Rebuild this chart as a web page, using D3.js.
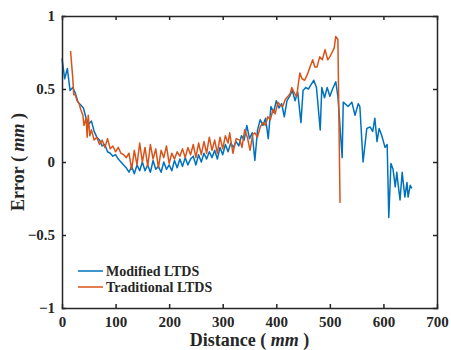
<!DOCTYPE html>
<meta charset="utf-8">
<style>
    body { margin: 0; background: #fff; }
    text { font-family: 'Liberation Serif', 'Times New Roman', serif; font-weight: bold; fill: #262626; }
    .axis text { font-family: 'Liberation Serif', 'Times New Roman', serif; font-weight: bold; font-size: 15px; fill: #262626; }
    .axis path, .axis line { stroke: #262626; stroke-width: 1.5px; }
    .line { fill: none; stroke-width: 1.5px; stroke-linejoin: round; }
</style>
<svg width="451" height="350"></svg>
<script src="https://d3js.org/d3.v7.min.js"></script>
<script>

    // Modified LTDS
    var modDist = [0, 5, 10, 15, 20, 25, 30, 35, 40, 45, 50, 55, 60, 65, 70, 75, 80, 85, 90, 95,
        100, 105, 110, 115, 120, 125, 130, 135, 140, 145, 150, 155, 160, 165, 170, 175, 180, 185, 190, 195,
        200, 205, 210, 215, 220, 225, 230, 235, 240, 245, 250, 255, 260, 265, 270, 275, 280, 285, 290, 295,
        300, 305, 310, 315, 320, 325, 330, 335, 340, 345, 350, 355, 360, 365, 370, 375, 380, 385, 390, 395,
        400, 405, 410, 415, 420, 425, 430, 435, 440, 446, 450, 455, 460, 465, 470, 475, 482, 485, 490, 495,
        500, 505, 511, 515, 523, 525, 534, 541, 547, 553, 556, 562, 569, 575, 580, 584, 588, 592, 597, 603,
        607, 610, 614, 618, 622, 625, 627, 631, 635, 637, 640, 644, 646, 650, 653];
    var modErr = [0.71, 0.57, 0.64, 0.49, 0.51, 0.47, 0.41, 0.39, 0.37, 0.30, 0.26, 0.28, 0.21, 0.17, 0.15, 0.11, 0.12, 0.07, 0.06, 0.04,
        0.05, 0.02, 0.00, -0.02, -0.04, -0.07, -0.03, -0.08, -0.02, -0.06, 0.00, -0.06, -0.02, -0.07, 0.01, -0.05, -0.03, -0.07, 0.00, -0.05,
        -0.02, -0.06, 0.01, -0.04, 0.02, -0.03, 0.03, -0.02, 0.02, 0.04, -0.02, 0.05, 0.00, 0.06, 0.02, 0.07, 0.03, 0.08, 0.02, 0.10,
        0.05, 0.12, 0.07, 0.13, 0.10, 0.14, 0.11, 0.18, 0.15, 0.25, 0.16, 0.20, 0.01, 0.22, 0.29, 0.25, 0.30, 0.16, 0.38, 0.34,
        0.42, 0.37, 0.40, 0.31, 0.42, 0.45, 0.49, 0.42, 0.48, 0.27, 0.49, 0.51, 0.50, 0.53, 0.56, 0.51, 0.22, 0.51, 0.44, 0.51,
        0.45, 0.50, 0.55, 0.45, 0.03, 0.41, 0.38, 0.41, 0.32, 0.40, 0.38, 0.00, 0.23, 0.24, 0.21, 0.30, 0.14, 0.23, 0.18, 0.10,
        0.12, -0.38, -0.01, -0.05, -0.17, -0.07, -0.14, -0.26, -0.07, -0.14, -0.24, -0.14, -0.24, -0.16, -0.18];

    // Traditional LTDS
    var tradDist = [16, 20, 22, 25, 28, 32, 35, 39, 41, 45, 47, 49, 52, 55, 60, 65, 70, 75, 80, 85,
        90, 95, 100, 105, 110, 115, 120, 125, 130, 135, 140, 145, 150, 155, 160, 165, 170, 175, 180, 185,
        190, 195, 200, 205, 210, 215, 220, 225, 230, 235, 240, 245, 250, 255, 260, 265, 270, 275, 280, 285,
        290, 295, 300, 305, 310, 313, 319, 325, 332, 336, 341, 346, 351, 356, 360, 365, 370, 375, 380, 384,
        389, 394, 398, 403, 407, 412, 417, 422, 426, 429, 434, 438, 444, 448, 453, 458, 463, 468, 472, 476,
        481, 486, 491, 496, 500, 504, 508, 511, 515, 519];
    var tradErr = [0.76, 0.58, 0.46, 0.46, 0.42, 0.40, 0.36, 0.32, 0.25, 0.30, 0.17, 0.32, 0.18, 0.22, 0.15, 0.17, 0.12, 0.15, 0.10, 0.16,
        0.09, 0.11, 0.07, 0.10, 0.06, 0.05, 0.03, 0.06, -0.05, 0.08, -0.02, 0.13, 0.00, 0.10, -0.03, 0.12, 0.02, 0.09, -0.04, 0.08,
        0.03, 0.11, -0.01, 0.06, 0.02, 0.07, 0.04, 0.09, 0.03, 0.10, 0.05, 0.12, 0.03, 0.13, 0.05, 0.14, 0.06, 0.17, 0.08, 0.15,
        0.06, 0.17, 0.09, 0.18, 0.13, 0.20, 0.06, 0.16, 0.15, 0.10, 0.22, 0.17, 0.08, 0.19, 0.20, 0.17, 0.24, 0.27, 0.25, 0.31,
        0.29, 0.36, 0.33, 0.41, 0.39, 0.38, 0.43, 0.45, 0.47, 0.51, 0.47, 0.45, 0.61, 0.57, 0.56, 0.60, 0.65, 0.70, 0.65, 0.65,
        0.72, 0.70, 0.77, 0.70, 0.72, 0.75, 0.78, 0.86, 0.84, -0.28];

    var xTicks = [0, 100, 200, 300, 400, 500, 600, 700];
    var yTicks = [-1, -0.5, 0, 0.5, 1];
    var seriesNames = ["Modified LTDS", "Traditional LTDS"];
    var colors = ["#0072BD", "#D95319"];

    var svg = d3.select("svg"),
        margin = {top: 16, right: 14, bottom: 42, left: 62},
        width = +svg.attr("width") - margin.left - margin.right,
        height = +svg.attr("height") - margin.top - margin.bottom,
        g = svg.append("g").attr("transform", "translate(" + margin.left + "," + margin.top + ")");

    var x = d3.scaleLinear().domain([0, 700]).range([0, width]);
    var y = d3.scaleLinear().domain([-1, 1]).range([height, 0]);

    var line = d3.line()
        .x(function(d) { return x(d[0]); })
        .y(function(d) { return y(d[1]); });

    var series = [
        d3.zip(modDist, modErr),
        d3.zip(tradDist, tradErr)
    ];

    // blue first, orange drawn over it
    series.forEach(function(s, i) {
        g.append("path")
            .datum(s)
            .attr("class", "line")
            .attr("stroke", colors[i])
            .attr("d", line);
    });

    g.append("g").attr("class", "axis")
        .attr("transform", "translate(0," + height + ")")
        .call(d3.axisBottom(x).tickValues(xTicks).tickSize(-4).tickSizeOuter(0).tickPadding(8));
    g.append("g").attr("class", "axis")
        .call(d3.axisTop(x).tickValues(xTicks).tickSize(-4).tickSizeOuter(0).tickFormat(""));
    g.append("g").attr("class", "axis")
        .call(d3.axisLeft(y).tickValues(yTicks).tickSize(-4).tickSizeOuter(0).tickPadding(7).tickFormat(d3.format("")));
    g.append("g").attr("class", "axis")
        .attr("transform", "translate(" + width + ",0)")
        .call(d3.axisRight(y).tickValues(yTicks).tickSize(-4).tickSizeOuter(0).tickFormat(""));

    g.selectAll(".axis .domain").attr("stroke-linecap", "square");

    // axis labels
    var xl = svg.append("text")
        .attr("x", margin.left + width / 2)
        .attr("y", 346)
        .attr("text-anchor", "middle")
        .style("font-size", "18px");
    xl.append("tspan").text("Distance ( ");
    xl.append("tspan").style("font-style", "italic").text("mm");
    xl.append("tspan").text(" )");

    var yl = svg.append("text")
        .attr("transform", "translate(24," + (margin.top + height / 2) + ") rotate(-90)")
        .attr("text-anchor", "middle")
        .style("font-size", "18px");
    yl.append("tspan").text("Error ( ");
    yl.append("tspan").style("font-style", "italic").text("mm");
    yl.append("tspan").text(" )");

    // legend
    var legend = g.selectAll(".legend")
        .data(seriesNames)
        .enter().append("g")
        .attr("class", "legend")
        .attr("transform", function(d, i) { return "translate(16," + (255 + i * 16) + ")"; });

    legend.append("line")
        .attr("x1", 0).attr("x2", 25)
        .attr("stroke", function(d, i) { return colors[i]; })
        .attr("stroke-width", 1.5);

    legend.append("text")
        .attr("x", 28)
        .attr("dy", "0.35em")
        .style("font-size", "14px")
        .text(function(d) { return d; });

</script>
